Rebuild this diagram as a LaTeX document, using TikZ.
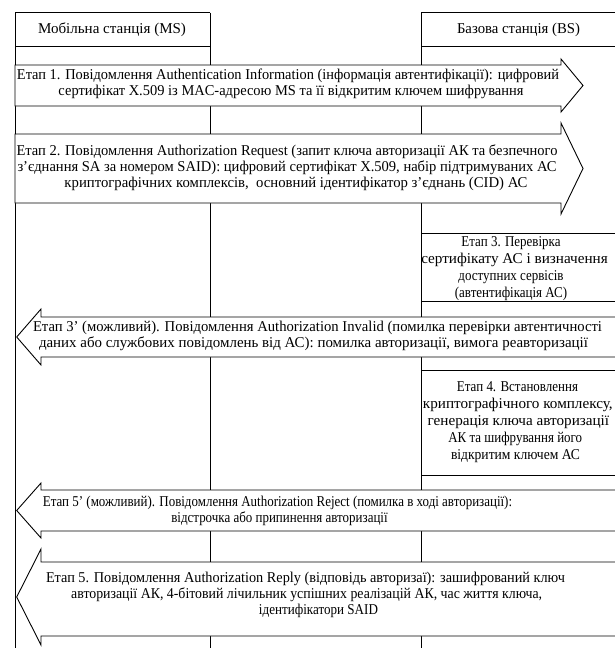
\documentclass[tikz,border=0pt]{standalone}
\usepackage{fontspec}
\usepackage{graphicx}
\setmainfont{Liberation Serif}[FakeStretch=0.92]
% one line of text, fitted towards a target width (pt) within limits, shifted sideways by an offset (pt)
\newsavebox\lwbox
\newcommand\lw[3][0]{\sbox\lwbox{#3}%
  \edef\lwf{\fpeval{min(max(#2/\wd\lwbox, 0.94), 1.1)}}%
  \hspace*{#1pt}\scalebox{\lwf}[1]{\usebox\lwbox}\hspace*{-#1pt}}
\begin{document}
\begin{tikzpicture}[x=1pt,y=-1pt,line width=0.9pt,
  txt/.style={font=\fontsize{15}{16}\selectfont, align=center, inner sep=0pt},
  boxtxt/.style={font=\fontsize{15}{17}\selectfont, align=center, inner sep=0pt},
  blk/.style={draw=black, fill=white, line join=miter}]
\useasboundingbox (0,0) rectangle (615,648);
% life lines and header boxes
\draw (15,12.5) -- (15,650);
\draw (210,12.5) -- (210,650);
\draw (421,12.5) -- (421,650);
\draw (15,12.5) -- (210,12.5) (15,46) -- (210,46);
\draw (421,12.5) -- (625,12.5) (421,46) -- (625,46);
\node[txt] (hms) at (112,30) {\lw{148}{Мобільна станція (MS)}};
\node[txt] (hbs) at (518.5,30) {\lw{123}{Базова станція (BS)}};
% step 1
\draw[blk] (15,65) -- (561,65) -- (561,59) -- (583,85.5) -- (561,112) -- (561,106) -- (15,106) -- cycle;
\node[txt] (t1) at (288,84) {\lw{542}{Етап 1. Повідомлення Authentication Information (інформація автентифікації): цифровий}\\
  \lw[3]{465}{сертифікат X.509 із MAC-адресою MS та її відкритим ключем шифрування}};
% step 2
\draw[blk] (15,134) -- (561,134) -- (561,123) -- (583,168.5) -- (561,214) -- (561,203) -- (15,203) -- cycle;
\node[txt] (t2) at (287,167.5) {\lw{541}{Етап 2. Повідомлення Authorization Request (запит ключа авторизації АК та безпечного}\\
  \lw{539}{з'єднання SA за номером SAID): цифровий сертифікат X.509, набір підтримуваних АС}\\
  \lw[9]{463}{криптографічних комплексів,\ \ основний ідентифікатор з’єднань (CID) АС}};
% step 3
\draw[blk] (421,233) rectangle (625,301);
\node[boxtxt] (b3) at (511,268.5) {\lw{95}{Етап 3. Перевірка}\\
  \lw[7]{190}{сертифікату АС і визначення}\\
  \lw{102}{доступних сервісів}\\
  \lw{110}{(автентифікація АС)}};
% step 3'
\draw[blk] (625,317) -- (41,317) -- (41,309) -- (16.7,337) -- (41,365) -- (41,357) -- (625,357) -- cycle;
\node[txt] (t3p) at (317.5,336) {\lw{569}{Етап 3' (можливий). Повідомлення Authorization Invalid (помилка перевірки автентичності}\\
  \lw[-4]{549}{даних або службових повідомлень від АС): помилка авторизації, вимога реавторизації}};
% step 4
\draw[blk] (421,370) rectangle (625,475);
\node[boxtxt] (b4) at (517,422) {\lw[0.5]{121}{Етап 4. Встановлення}\\
  \lw[1.6]{190}{криптографічного комплексу,}\\
  \lw[2.8]{185}{генерація ключа авторизації}\\
  \lw[-3.5]{133}{АК та шифрування його}\\
  \lw[-1.5]{129}{відкритим ключем АС}};
% step 5'
\draw[blk] (625,490) -- (41,490) -- (41,483) -- (16.7,510.5) -- (41,538) -- (41,531) -- (625,531) -- cycle;
\node[txt] (t5p) at (277.5,510.5) {\lw{461}{Етап 5' (можливий). Повідомлення Authorization Reject (помилка в ході авторизації):}\\
  \lw[2]{175}{відстрочка або припинення авторизації}};
% step 5
\draw[blk] (625,562) -- (41,562) -- (41,549) -- (16.7,597) -- (41,645) -- (41,636) -- (625,636) -- cycle;
\node[txt] (t5) at (305.5,595) {\lw{519}{Етап 5. Повідомлення Authorization Reply (відповідь авторизаї): зашифрований ключ}\\
  \lw[2.3]{471}{авторизації АК, 4-бітовий лічильник успішних реалізацій АК, час життя ключа,}\\
  \lw[13]{119}{ідентифікатори SAID}};
\end{tikzpicture}
\end{document}
